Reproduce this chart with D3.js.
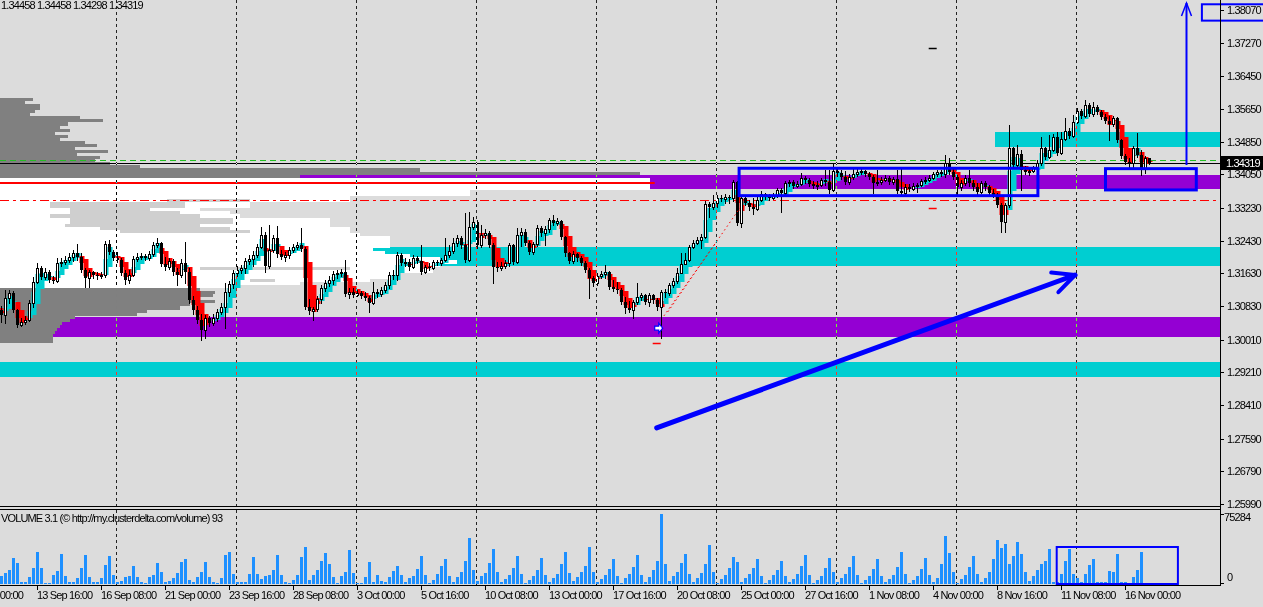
<!DOCTYPE html>
<html>
<head>
<meta charset="utf-8">
<script src="https://cdn.jsdelivr.net/npm/d3@7"></script>
<style>
body { margin: 0; background: #dcdcdc; overflow: hidden; }
text { font-family: "Liberation Sans", Arial, sans-serif; font-size: 11px; letter-spacing: -0.85px; fill: #000; }
</style>
</head>
<body>
<script>
// H4 bars, bar 0 = Mon 12 Sep 00:00
var firstOpen = 1.3085;
var barClose = [
1.3074,1.3061,1.3102,1.3115,1.3074,1.3037,1.3044,1.3049,1.3090,1.3142,
1.3176,1.3154,1.3166,1.3147,1.3144,1.3188,1.3191,1.3196,1.3203,1.3213,
1.3203,1.3171,1.3151,1.3166,1.3159,1.3156,1.3159,1.3235,1.3215,1.3200,
1.3196,1.3164,1.3147,1.3159,1.3198,1.3203,1.3205,1.3200,1.3210,1.3232,
1.3237,1.3186,1.3178,1.3193,1.3166,1.3159,1.3188,1.3166,1.3098,1.3074,
1.3049,1.3025,1.3054,1.3042,1.3054,1.3069,1.3080,1.3117,1.3137,1.3164,
1.3171,1.3176,1.3193,1.3198,1.3208,1.3227,1.3257,1.3181,1.3220,1.3249,
1.3210,1.3203,1.3208,1.3220,1.3227,1.3232,1.3222,1.3080,1.3071,1.3076,
1.3100,1.3127,1.3139,1.3147,1.3161,1.3164,1.3166,1.3112,1.3117,1.3110,
1.3115,1.3107,1.3102,1.3090,1.3117,1.3112,1.3122,1.3134,1.3159,1.3159,
1.3208,1.3188,1.3191,1.3178,1.3200,1.3193,1.3166,1.3178,1.3176,1.3191,
1.3188,1.3196,1.3208,1.3218,1.3237,1.3249,1.3232,1.3196,1.3276,1.3289,
1.3232,1.3257,1.3262,1.3232,1.3178,1.3176,1.3181,1.3188,1.3232,1.3191,
1.3257,1.3264,1.3237,1.3215,1.3235,1.3274,1.3262,1.3271,1.3294,1.3286,
1.3291,1.3252,1.3213,1.3193,1.3210,1.3200,1.3188,1.3171,1.3151,1.3139,
1.3156,1.3161,1.3166,1.3129,1.3124,1.3122,1.3093,1.3078,1.3074,1.3093,
1.3105,1.3110,1.3093,1.3110,1.3098,1.3080,1.3117,1.3115,1.3134,1.3144,
1.3164,1.3186,1.3196,1.3227,1.3237,1.3245,1.3252,1.3332,1.3325,1.3335,
1.3347,1.3344,1.3349,1.3347,1.3386,1.3286,1.3347,1.3335,1.3325,1.3320,
1.3342,1.3357,1.3349,1.3347,1.3352,1.3367,1.3359,1.3384,1.3386,1.3376,
1.3381,1.3396,1.3391,1.3381,1.3376,1.3379,1.3391,1.3386,1.3367,1.3413,
1.3408,1.3398,1.3386,1.3398,1.3406,1.3411,1.3413,1.3406,1.3398,1.3384,
1.3386,1.3391,1.3396,1.3386,1.3393,1.3364,1.3359,1.3374,1.3369,1.3376,
1.3379,1.3389,1.3391,1.3396,1.3406,1.3411,1.3406,1.3433,1.3411,1.3398,
1.3374,1.3384,1.3396,1.3384,1.3374,1.3362,1.3384,1.3374,1.3359,1.3354,
1.3330,1.3289,1.3330,1.3469,1.3428,1.3455,1.3416,1.3411,1.3413,1.3420,
1.3433,1.3469,1.3447,1.3465,1.3496,1.3457,1.3491,1.3511,1.3499,1.3533,
1.3560,1.3548,1.3575,1.3553,1.3570,1.3558,1.3545,1.3536,1.3528,1.3543,
1.3489,1.3450,1.3435,1.3433,1.3469,1.3452,1.3418,1.34458,1.34319
];
var barHigh = [
1.3093,1.3083,1.3122,1.3122,1.3120,1.3076,1.3054,1.3059,1.3098,1.3154,
1.3188,1.3181,1.3176,1.3171,1.3156,1.3200,1.3200,1.3205,1.3213,1.3220,
1.3235,1.3213,1.3176,1.3171,1.3169,1.3166,1.3166,1.3242,1.3245,1.3220,
1.3215,1.3200,1.3171,1.3171,1.3205,1.3213,1.3213,1.3210,1.3218,1.3240,
1.3249,1.3240,1.3203,1.3200,1.3198,1.3176,1.3198,1.3240,1.3176,1.3107,
1.3083,1.3064,1.3061,1.3059,1.3064,1.3076,1.3090,1.3139,1.3144,1.3171,
1.3181,1.3183,1.3200,1.3208,1.3218,1.3235,1.3276,1.3264,1.3281,1.3257,
1.3279,1.3220,1.3215,1.3227,1.3235,1.3240,1.3274,1.3227,1.3100,1.3080,
1.3107,1.3134,1.3147,1.3156,1.3169,1.3171,1.3173,1.3196,1.3127,1.3127,
1.3122,1.3120,1.3117,1.3107,1.3142,1.3124,1.3129,1.3142,1.3166,1.3171,
1.3215,1.3213,1.3200,1.3198,1.3208,1.3205,1.3232,1.3183,1.3188,1.3196,
1.3196,1.3200,1.3249,1.3232,1.3249,1.3257,1.3254,1.3310,1.3313,1.3300,
1.3294,1.3281,1.3271,1.3267,1.3237,1.3191,1.3191,1.3196,1.3237,1.3235,
1.3274,1.3274,1.3271,1.3242,1.3240,1.3281,1.3279,1.3279,1.3298,1.3305,
1.3298,1.3294,1.3254,1.3215,1.3218,1.3213,1.3205,1.3193,1.3176,1.3156,
1.3164,1.3169,1.3183,1.3169,1.3147,1.3142,1.3127,1.3105,1.3095,1.3098,
1.3139,1.3115,1.3112,1.3115,1.3112,1.3102,1.3122,1.3124,1.3139,1.3151,
1.3176,1.3213,1.3213,1.3232,1.3245,1.3252,1.3259,1.3340,1.3337,1.3354,
1.3354,1.3354,1.3357,1.3354,1.3391,1.3389,1.3352,1.3352,1.3342,1.3347,
1.3349,1.3364,1.3359,1.3357,1.3359,1.3371,1.3371,1.3389,1.3391,1.3391,
1.3389,1.3408,1.3401,1.3396,1.3389,1.3389,1.3396,1.3416,1.3416,1.3433,
1.3420,1.3416,1.3413,1.3406,1.3420,1.3418,1.3420,1.3416,1.3411,1.3403,
1.3416,1.3398,1.3403,1.3401,1.3398,1.3416,1.3420,1.3381,1.3381,1.3384,
1.3384,1.3393,1.3398,1.3403,1.3411,1.3416,1.3416,1.3452,1.3445,1.3418,
1.3403,1.3391,1.3403,1.3416,1.3391,1.3384,1.3389,1.3389,1.3379,1.3369,
1.3359,1.3335,1.3335,1.3526,1.3472,1.3477,1.3465,1.3425,1.3423,1.3425,
1.3440,1.3496,1.3472,1.3501,1.3504,1.3509,1.3509,1.3543,1.3518,1.3550,
1.3567,1.3565,1.3587,1.3580,1.3582,1.3575,1.3562,1.3553,1.3548,1.3548,
1.3545,1.3491,1.3455,1.3445,1.3474,1.3506,1.3465,1.3450,1.34458
];
var barLow = [
1.3054,1.3044,1.3042,1.3090,1.3069,1.3032,1.3034,1.3039,1.3047,1.3080,
1.3139,1.3149,1.3149,1.3142,1.3139,1.3142,1.3181,1.3186,1.3191,1.3193,
1.3196,1.3166,1.3129,1.3129,1.3151,1.3149,1.3151,1.3154,1.3210,1.3196,
1.3191,1.3159,1.3137,1.3139,1.3156,1.3193,1.3198,1.3196,1.3196,1.3205,
1.3227,1.3181,1.3171,1.3173,1.3159,1.3134,1.3154,1.3139,1.3090,1.3064,
1.3042,1.3000,1.3005,1.3034,1.3037,1.3047,1.3064,1.3029,1.3107,1.3127,
1.3156,1.3164,1.3164,1.3186,1.3181,1.3203,1.3225,1.3166,1.3176,1.3215,
1.3203,1.3198,1.3193,1.3200,1.3215,1.3222,1.3218,1.3076,1.3064,1.3049,
1.3071,1.3090,1.3120,1.3132,1.3137,1.3151,1.3156,1.3107,1.3102,1.3105,
1.3107,1.3102,1.3098,1.3069,1.3088,1.3105,1.3107,1.3117,1.3127,1.3149,
1.3147,1.3183,1.3181,1.3171,1.3176,1.3188,1.3161,1.3164,1.3171,1.3173,
1.3183,1.3183,1.3193,1.3203,1.3213,1.3230,1.3225,1.3191,1.3193,1.3271,
1.3225,1.3227,1.3249,1.3227,1.3139,1.3169,1.3171,1.3176,1.3181,1.3186,
1.3188,1.3230,1.3232,1.3210,1.3210,1.3230,1.3254,1.3232,1.3264,1.3281,
1.3281,1.3247,1.3205,1.3188,1.3188,1.3193,1.3183,1.3166,1.3102,1.3132,
1.3134,1.3151,1.3151,1.3124,1.3120,1.3115,1.3088,1.3066,1.3069,1.3054,
1.3088,1.3098,1.3088,1.3083,1.3090,1.3074,1.3005,1.3105,1.3110,1.3129,
1.3139,1.3164,1.3186,1.3193,1.3225,1.3235,1.3225,1.3249,1.3300,1.3320,
1.3325,1.3340,1.3335,1.3335,1.3340,1.3281,1.3276,1.3330,1.3318,1.3308,
1.3318,1.3340,1.3344,1.3342,1.3344,1.3349,1.3313,1.3357,1.3376,1.3371,
1.3374,1.3379,1.3384,1.3376,1.3371,1.3369,1.3376,1.3379,1.3359,1.3364,
1.3401,1.3393,1.3381,1.3381,1.3393,1.3401,1.3406,1.3401,1.3393,1.3359,
1.3379,1.3381,1.3389,1.3381,1.3381,1.3359,1.3354,1.3357,1.3364,1.3367,
1.3362,1.3376,1.3384,1.3389,1.3393,1.3401,1.3401,1.3398,1.3406,1.3393,
1.3354,1.3367,1.3379,1.3376,1.3367,1.3357,1.3359,1.3367,1.3354,1.3349,
1.3325,1.3264,1.3264,1.3325,1.3420,1.3425,1.3367,1.3406,1.3403,1.3411,
1.3386,1.3428,1.3442,1.3445,1.3462,1.3452,1.3455,1.3489,1.3494,1.3496,
1.3531,1.3543,1.3545,1.3548,1.3548,1.3553,1.3540,1.3531,1.3489,1.3523,
1.3484,1.3445,1.3430,1.3423,1.3423,1.3447,1.3403,1.3408,1.34298
];
var barVolume = [
4300,8600,11800,15100,28000,22600,2200,2200,7500,17200,
34400,17200,1100,1100,9700,14000,32300,8600,2200,2200,
6500,17200,31200,7500,2200,2200,6500,20400,30100,9700,
2200,3200,7500,8600,19400,7500,2200,1100,7500,9700,
22600,12900,2200,3200,6500,11800,23700,26900,4300,2200,
7500,12900,23700,7500,2200,1100,6500,31200,34400,10800,
2200,2200,2200,10800,29000,10800,5400,8600,9700,15100,
31200,9700,2200,1100,4300,9700,29000,39800,4300,9700,
15100,24700,33300,21500,7500,1100,8600,12900,36600,11800,
1100,1100,7500,23700,2200,9700,3200,2200,7500,14000,
19400,9700,
2200,6500,8600,16000,30000,9700,
1100,4300,10800,19400,26900,8600,
2200,7500,12900,25000,49400,15000,
3200,8600,11800,22600,38000,12900,
2200,5400,9700,17200,30100,10800,
1100,4300,8600,15100,28000,9700,
2200,6500,10800,21500,34400,11800,
3200,7500,12900,19400,39800,12900,
2200,5400,9700,16000,26900,8600,
1100,6500,10800,18300,31200,9700,
2200,7500,15100,24700,75284,21500,
3200,8600,12900,22600,32300,10800,
2200,6500,11800,21500,41900,12900,
1100,5400,9700,17200,29000,23700,
2200,6500,10800,17200,27000,8600,
1100,4300,9700,15100,24700,8600,
2200,5400,10800,19400,31200,9700,
1100,4300,8600,17200,28000,12900,
2200,6500,10800,18300,30100,9700,
1100,4300,8600,16000,26900,8600,
2200,5400,9700,18300,34400,10800,
1100,4300,8600,16000,28000,9700,
2200,6500,21500,51600,33300,12900,
1100,5400,9700,18300,30100,10800,
2200,6500,12900,26900,47300,38700,
43000,21500,30100,45100,32300,12900,
3200,8600,15100,21500,
24700,37600,2200,2200,10800,24700,37600,10800,6500,2200,
10800,20400,26900,2200,2200,2200,14000,12900,32300,2200,
2200,1100,7500,15100,34400,1100,500
];

var timeTickBars = [-6,10,26,42,58,74,90,106,122,138,154,170,186,202,218,234,250,266,282];
var timeTickLabels = ["9 Sep 00:00","13 Sep 16:00","16 Sep 08:00","21 Sep 00:00","23 Sep 16:00",
  "28 Sep 08:00","3 Oct 00:00","5 Oct 16:00","10 Oct 08:00","13 Oct 00:00","17 Oct 16:00",
  "20 Oct 08:00","25 Oct 00:00","27 Oct 16:00","1 Nov 08:00","4 Nov 00:00","8 Nov 16:00",
  "11 Nov 08:00","16 Nov 00:00"];
var priceTicks = [1.38070,1.37270,1.36450,1.35650,1.34850,1.34050,1.33230,1.32430,
  1.31630,1.30830,1.30010,1.29210,1.28410,1.27590,1.26790,1.25990];
var weekStartBars = [30,60,90,120,150,180,210,240,270];

// volume profile, one row per price step from the top
var profileTop = 1.3592, profileStep = 0.00075;
var profileOuter = [33,25,40,40,35,30,80,103,68,60,70,55,68,60,85,97,75,108,77,100,95,110,140,420,640,300,
  0,0,0,0,0,0,0,0,0,0,0,0,0,0,0,0,0,0,0,0,0,0,0,0,0,0,0,0,0,0,0,0,0,0,0,0,
  200,215,213,200,215,190,180,147,137,75,70,62,60,57,55,53,53,53,0];
var profileValue = [0,0,0,0,0,0,0,0,0,0,0,0,0,0,0,0,0,0,0,0,0,0,0,0,0,0,
  650,650,650,650,470,470,350,350,250,250,200,230,240,330,330,330,350,350,360,390,390,390,390,373,385,410,440,457,440,430,433,400,390,370,300,230,
  0,0,0,0,0,0,0,0,0,0,0,0,0,0,0,0,0,0,0];
var profileSession = [0,0,0,0,0,0,0,0,0,0,0,0,0,0,0,0,0,0,0,0,0,0,0,0,0,0,
  0,0,0,0,0,0,0,250,185,185,150,180,200,233,233,200,230,250,0,0,0,0,0,0,0,0,0,0,0,350,0,0,0,275,0,0,
  0,0,0,0,0,0,0,0,0,0,0,0,0,0,0,0,0,0,0];
var profileToday = [0,0,0,0,0,0,0,0,0,0,0,0,0,0,0,0,0,0,0,0,0,0,0,0,0,0,
  0,0,0,0,0,0,0,167,50,50,70,70,50,70,70,65,100,120,0,0,0,0,0,0,0,0,0,0,0,200,0,0,0,250,0,0,
  0,0,0,0,0,0,0,0,0,0,0,0,0,0,0,0,0,0,0];

// supply / demand zones
var zoneHigh = [1.3509, 1.3403, 1.3227, 1.3056, 1.2946];
var zoneLow  = [1.3472, 1.3369, 1.3182, 1.3007, 1.2910];
var zoneFrom = [249.5, 0, 0, 0, 0];
var zoneType = ["sup", "dem", "sup", "dem", "sup"];

var greenLevel = 1.3439, redLevel = 1.3384, redLevelEnd = 164.5, dashLevel = 1.3342;
var lastOHLC = [1.34458, 1.34458, 1.34298, 1.34319];

// drawn objects [fromBar, toBar, priceHigh, priceLow]
var boxes = [[185.6, 260.3, 1.3420, 1.3353], [277.2, 299.9, 1.3419, 1.3367], [301.3, 320, 1.3821, 1.3781]];
var volBox = [265, 295.3, 39800];
var trendArrow = [165, 1.2785, 269.6, 1.3159];
var upArrow = [297.3, 1.3428, 1.3824];
var dotLines = [[166.8, 1.3059, 180.3, 1.3245], [167.8, 1.3069, 185.8, 1.3323]];
// short target dashes [bar, price, isRed]
var targetMarks = [[165, 1.2993, 1], [234, 1.3323, 1], [234, 1.3714, 0]];
// buy signal arrow [bar, price]
var buySignal = [165.5, 1.3029];

// ---------- drawing ----------
var W = 1263, H = 607, plotR = 1220, mainB = 506, volT = 510, volB = 585;

var svg = d3.select("body").append("svg")
    .attr("width", W).attr("height", H)
    .style("display", "block");
svg.append("rect").attr("width", W).attr("height", H).attr("fill", "#dcdcdc");

var defs = svg.append("defs");
defs.append("clipPath").attr("id", "clipMain").append("rect")
    .attr("x", 0).attr("y", 0).attr("width", plotR).attr("height", mainB);
defs.append("clipPath").attr("id", "clipVol").append("rect")
    .attr("x", 0).attr("y", volT).attr("width", plotR).attr("height", volB - volT);

var x = d3.scaleLinear().domain([0, 305]).range([-3.3, 1216.7]);
var y = d3.scaleLinear().domain([1.25990, 1.38070]).range([504, 10]);
var yv = d3.scaleLinear().domain([0, 75284]).range([584, 514]);
var xp = d3.scaleLinear().domain([0, 650]).range([0, 650]);

function cx(k) { return Math.round(x(k)) + 0.5; }
function py(p) { return Math.round(y(p)); }

var bars = barClose.map(function (c, i) {
    var o = i == 0 ? firstOpen : barClose[i - 1];
    return {
        k: i, o: o, c: c,
        h: Math.max(barHigh[i], o, c),
        l: Math.min(barLow[i], o, c),
        v: barVolume[i] || 0
    };
});

// heiken ashi
var ha = [];
bars.forEach(function (b, i) {
    var hc = (b.o + b.h + b.l + b.c) / 4;
    var ho = i ? (ha[i - 1].o + ha[i - 1].c) / 2 : (b.o + b.c) / 2;
    ha.push({ k: b.k, o: ho, c: hc });
});

var main = svg.append("g").attr("clip-path", "url(#clipMain)");

// zones
main.append("g").selectAll("rect")
    .data(zoneHigh)
    .enter().append("rect")
    .attr("x", (d, i) => Math.round(x(zoneFrom[i])))
    .attr("y", d => py(d))
    .attr("width", (d, i) => plotR - Math.round(x(zoneFrom[i])))
    .attr("height", (d, i) => py(zoneLow[i]) - py(d))
    .attr("fill", (d, i) => zoneType[i] == "sup" ? "#00ced1" : "#9400d3");

// volume profile
var prof = main.append("g");
function drawProfile(vals, color) {
    var g = prof.append("g");
    vals.forEach(function (v, i) {
        if (!v) return;
        var top = py(profileTop - i * profileStep);
        var bot = py(profileTop - (i + 1) * profileStep);
        g.append("rect")
            .attr("x", 0).attr("y", top)
            .attr("width", Math.round(xp(v)))
            .attr("height", Math.max(1, bot - top))
            .attr("fill", color);
    });
}
drawProfile(profileValue, "#ffffff");
drawProfile(profileSession, "#cfcfcf");
drawProfile(profileToday, "#ffffff");
drawProfile(profileOuter, "#808080");

// levels
main.append("line")
    .attr("x1", 0).attr("x2", plotR)
    .attr("y1", py(greenLevel) + 0.5).attr("y2", py(greenLevel) + 0.5)
    .attr("stroke", "#1fbf1f").attr("stroke-dasharray", "6,4");
main.append("line")
    .attr("x1", 0).attr("x2", x(redLevelEnd))
    .attr("y1", py(redLevel)).attr("y2", py(redLevel))
    .attr("stroke", "#ff0000").attr("stroke-width", 2);
main.append("line")
    .attr("x1", 0).attr("x2", plotR)
    .attr("y1", py(dashLevel) + 0.5).attr("y2", py(dashLevel) + 0.5)
    .attr("stroke", "#ff0000").attr("stroke-dasharray", "9,4,3,4");
main.append("line")
    .attr("x1", 0).attr("x2", plotR)
    .attr("y1", py(lastOHLC[3]) + 0.5).attr("y2", py(lastOHLC[3]) + 0.5)
    .attr("stroke", "#000");

// heiken ashi blocks
main.append("g").selectAll("rect")
    .data(ha)
    .enter().append("rect")
    .attr("x", d => cx(d.k) - 2)
    .attr("width", 5)
    .attr("y", d => py(Math.max(d.o, d.c)))
    .attr("height", d => Math.max(1, py(Math.min(d.o, d.c)) - py(Math.max(d.o, d.c))))
    .attr("fill", d => d.c >= d.o ? "#00ced1" : "#ff0000");

// candles
var cg = main.append("g");
cg.selectAll("line.wick")
    .data(bars)
    .enter().append("line")
    .attr("class", "wick")
    .attr("x1", d => cx(d.k)).attr("x2", d => cx(d.k))
    .attr("y1", d => py(d.h)).attr("y2", d => py(d.l) + 1)
    .attr("stroke", "#000");
cg.selectAll("rect.body")
    .data(bars)
    .enter().append("rect")
    .attr("class", "body")
    .each(function (d) {
        var t = py(Math.max(d.o, d.c)), b = py(Math.min(d.o, d.c));
        var s = d3.select(this);
        if (d.c > d.o) {
            s.attr("x", cx(d.k) - 1).attr("y", t + 0.5)
                .attr("width", 2).attr("height", Math.max(0, b - t))
                .attr("fill", "#fff").attr("stroke", "#000");
        } else {
            s.attr("x", cx(d.k) - 1.5).attr("y", t)
                .attr("width", 3).attr("height", Math.max(1, b - t))
                .attr("fill", "#000");
        }
    });

// dotted projection lines
main.append("g").selectAll("line")
    .data(dotLines)
    .enter().append("line")
    .attr("x1", d => x(d[0])).attr("y1", d => y(d[1]))
    .attr("x2", d => x(d[2])).attr("y2", d => y(d[3]))
    .attr("stroke", "#ff0000").attr("stroke-dasharray", "1.5,3");

// target dashes
main.append("g").selectAll("line")
    .data(targetMarks)
    .enter().append("line")
    .attr("x1", d => x(d[0]) - 4).attr("x2", d => x(d[0]) + 4)
    .attr("y1", d => py(d[1]) + 0.5).attr("y2", d => py(d[1]) + 0.5)
    .attr("stroke", d => d[2] ? "#ff0000" : "#000")
    .attr("stroke-width", 1.5);

// buy signal arrow
var bx = x(buySignal[0]), by = y(buySignal[1]);
main.append("path")
    .attr("d", d3.line()([[bx - 4, by - 2], [bx, by - 2], [bx, by - 5], [bx + 4, by], [bx, by + 5], [bx, by + 2], [bx - 4, by + 2]]) + "Z")
    .attr("fill", "#fff").attr("stroke", "#0000ff").attr("stroke-width", 1.2);

// period separators (inverting pen)
svg.append("g").selectAll("line")
    .data(weekStartBars)
    .enter().append("line")
    .attr("x1", d => cx(d) - 1).attr("x2", d => cx(d) - 1)
    .attr("y1", 0).attr("y2", volB)
    .attr("stroke", "#fff")
    .attr("stroke-dasharray", "3,3")
    .style("mix-blend-mode", "difference");

// drawn objects
var obj = svg.append("g");
obj.selectAll("rect")
    .data(boxes)
    .enter().append("rect")
    .attr("x", d => x(d[0])).attr("y", d => y(d[2]))
    .attr("width", d => x(d[1]) - x(d[0]))
    .attr("height", d => y(d[3]) - y(d[2]))
    .attr("fill", "none").attr("stroke", "#0000ff")
    .attr("stroke-width", (d, i) => i == 2 ? 2 : 3);

var ax1 = x(trendArrow[0]), ay1 = y(trendArrow[1]), ax2 = x(trendArrow[2]), ay2 = y(trendArrow[3]);
var ang = Math.atan2(ay2 - ay1, ax2 - ax1);
obj.append("line")
    .attr("x1", ax1).attr("y1", ay1).attr("x2", ax2).attr("y2", ay2)
    .attr("stroke", "#0000ff").attr("stroke-width", 5).attr("stroke-linecap", "round");
obj.append("path")
    .attr("d", d3.line()([
        [ax2 - 24 * Math.cos(ang - 0.45), ay2 - 24 * Math.sin(ang - 0.45)],
        [ax2, ay2],
        [ax2 - 24 * Math.cos(ang + 0.45), ay2 - 24 * Math.sin(ang + 0.45)]]))
    .attr("fill", "none").attr("stroke", "#0000ff").attr("stroke-width", 4)
    .attr("stroke-linecap", "round").attr("stroke-linejoin", "round");

var ux = Math.round(x(upArrow[0])) + 0.5;
obj.append("line")
    .attr("x1", ux).attr("x2", ux)
    .attr("y1", y(upArrow[1])).attr("y2", y(upArrow[2]))
    .attr("stroke", "#0000ff").attr("stroke-width", 2);
obj.append("path")
    .attr("d", d3.line()([[ux - 5, y(upArrow[2]) + 13], [ux, y(upArrow[2])], [ux + 5, y(upArrow[2]) + 13]]))
    .attr("fill", "none").attr("stroke", "#0000ff").attr("stroke-width", 1.5);

// volume panel
var vg = svg.append("g").attr("clip-path", "url(#clipVol)");
vg.selectAll("rect")
    .data(bars)
    .enter().append("rect")
    .attr("x", d => cx(d.k) - 1.5)
    .attr("width", 3)
    .attr("y", d => Math.round(yv(d.v)))
    .attr("height", d => Math.max(0, 584 - Math.round(yv(d.v))))
    .attr("fill", "#1e90ff");
svg.append("rect")
    .attr("x", x(volBox[0])).attr("y", yv(volBox[2]))
    .attr("width", x(volBox[1]) - x(volBox[0]))
    .attr("height", yv(0) - yv(volBox[2]))
    .attr("fill", "none").attr("stroke", "#0000ff").attr("stroke-width", 2);

svg.append("text")
    .attr("x", 1).attr("y", 522)
    .text("VOLUME 3.1 (\u00a9 http://my.clusterdelta.com/volume) 93");

// frame lines
var frame = svg.append("g").attr("stroke", "#000").attr("shape-rendering", "crispEdges");
frame.append("line").attr("x1", 0).attr("x2", plotR + 1).attr("y1", mainB + 0.5).attr("y2", mainB + 0.5);
frame.append("line").attr("x1", 0).attr("x2", plotR + 1).attr("y1", volT - 0.5).attr("y2", volT - 0.5);
frame.append("line").attr("x1", 0).attr("x2", plotR + 1).attr("y1", volB + 0.5).attr("y2", volB + 0.5);
frame.append("line").attr("x1", plotR + 0.5).attr("x2", plotR + 0.5).attr("y1", 0).attr("y2", volB + 1);

// price axis
var pa = svg.append("g");
pa.selectAll("line")
    .data(priceTicks)
    .enter().append("line")
    .attr("x1", plotR).attr("x2", plotR + 4)
    .attr("y1", d => py(d) + 0.5).attr("y2", d => py(d) + 0.5)
    .attr("stroke", "#000");
pa.selectAll("text")
    .data(priceTicks)
    .enter().append("text")
    .attr("x", plotR + 7).attr("y", d => py(d) + 4)
    .text(d => d.toFixed(5));

// current price marker
var cy = py(lastOHLC[3]);
svg.append("rect").attr("x", plotR + 1).attr("y", cy - 7).attr("width", W - plotR).attr("height", 14).attr("fill", "#000");
svg.append("text").attr("x", plotR + 6).attr("y", cy + 4).style("fill", "#fff").text(lastOHLC[3].toFixed(5));

// volume axis
svg.append("text").attr("x", plotR + 4).attr("y", 521).text("75284");
svg.append("text").attr("x", plotR + 7).attr("y", 581).text("0");
svg.append("line").attr("x1", plotR).attr("x2", plotR + 4).attr("y1", 514.5).attr("y2", 514.5).attr("stroke", "#000");
svg.append("line").attr("x1", plotR).attr("x2", plotR + 4).attr("y1", 583.5).attr("y2", 583.5).attr("stroke", "#000");

// time axis
var ta = svg.append("g");
ta.selectAll("line")
    .data(timeTickBars)
    .enter().append("line")
    .attr("x1", d => cx(d)).attr("x2", d => cx(d))
    .attr("y1", volB).attr("y2", volB + 5)
    .attr("stroke", "#000");
ta.selectAll("text")
    .data(timeTickBars)
    .enter().append("text")
    .attr("x", d => cx(d) - 0.5).attr("y", 599)
    .text((d, i) => timeTickLabels[i]);

// header
svg.append("text").attr("x", 1).attr("y", 9)
    .text(lastOHLC.map(v => v.toFixed(5)).join(" "));
</script>
</body>
</html>
